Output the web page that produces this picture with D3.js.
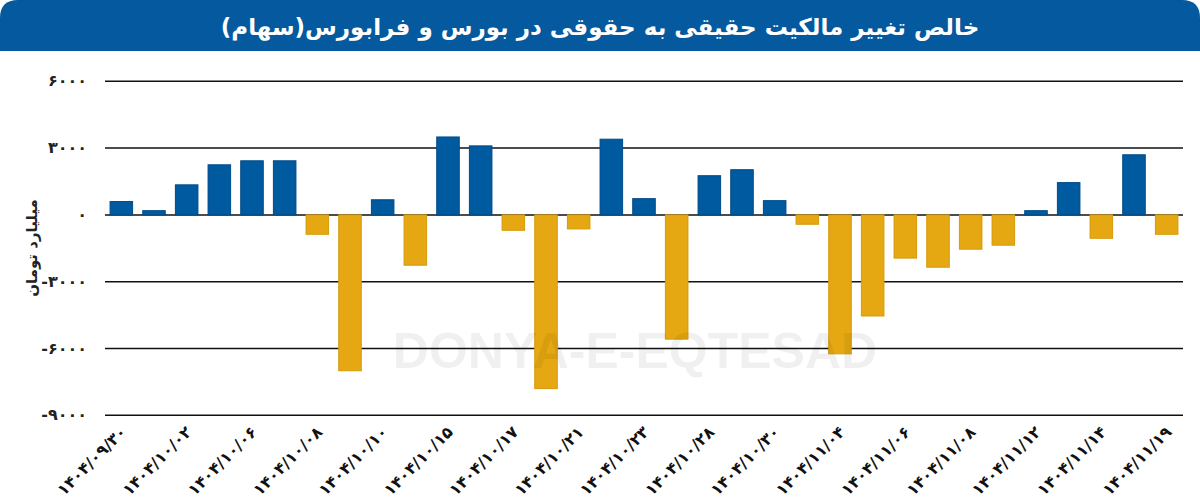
<!DOCTYPE html>
<html>
<head>
<meta charset="utf-8">
<script src="https://cdn.jsdelivr.net/npm/d3@7"></script>
<style>
  html, body { margin: 0; padding: 0; background: #fff; }
  svg { display: block; }
</style>
</head>
<body>
<div id="chart"></div>
<script>
const title = "خالص تغییر مالکیت حقیقی به حقوقی در بورس و فرابورس(سهام)";
const yTitle = "میلیارد تومان";
const watermark = "DONYA-E-EQTESAD";

const dates = [
  "1404/09/30","1404/10/01","1404/10/02","1404/10/03","1404/10/06","1404/10/07",
  "1404/10/08","1404/10/09","1404/10/10","1404/10/14","1404/10/15","1404/10/16",
  "1404/10/17","1404/10/20","1404/10/21","1404/10/22","1404/10/23","1404/10/24",
  "1404/10/28","1404/10/29","1404/10/30","1404/11/01","1404/11/04","1404/11/05",
  "1404/11/06","1404/11/07","1404/11/08","1404/11/11","1404/11/12","1404/11/13",
  "1404/11/14","1404/11/18","1404/11/19"
];
const values = [
  600, 190, 1350, 2250, 2430, 2430,
  -870, -7000, 680, -2260, 3500, 3100,
  -690, -7800, -630, 3400, 730, -5580,
  1760, 2030, 640, -420, -6240, -4540,
  -1940, -2350, -1540, -1360, 190, 1450,
  -1050, 2700, -870
];
const yTicks = [6000, 3000, 0, -3000, -6000, -9000];

const W = 1200, H = 502;
const faDigits = "۰۱۲۳۴۵۶۷۸۹";
const fa = s => String(s).replace(/[0-9]/g, d => faDigits[+d]);

const svg = d3.select("#chart").append("svg").attr("width", W).attr("height", H);

// title bar with rounded top corners
const r = 18, th = 51;
svg.append("path")
  .attr("d", `M0,${th} L0,${r} Q0,0 ${r},0 L${W - r},0 Q${W},0 ${W},${r} L${W},${th} Z`)
  .attr("fill", "#055a9f");
svg.append("text")
  .attr("x", W / 2).attr("y", 35)
  .attr("text-anchor", "middle")
  .attr("direction", "rtl")
  .attr("font-family", "DejaVu Sans")
  .attr("font-weight", "bold")
  .attr("font-size", 23)
  .attr("fill", "#fff")
  .text(title);

const x = d3.scaleBand().domain(dates).range([105, 1183]).paddingInner(0.31).paddingOuter(0.155);
const y = d3.scaleLinear().domain([-9000, 6000]).range([415.3, 81.3]);

// gridlines
svg.append("g").selectAll("line").data(yTicks).join("line")
  .attr("x1", 105).attr("x2", 1183)
  .attr("y1", d => y(d)).attr("y2", d => y(d))
  .attr("stroke", "#111").attr("stroke-width", 1.5);

// y tick labels
svg.append("g").selectAll("text").data(yTicks).join("text")
  .attr("x", 87).attr("y", d => y(d) + 5)
  .attr("text-anchor", "end")
  .attr("font-family", "DejaVu Sans")
  .attr("font-weight", "bold")
  .attr("font-size", 16)
  .attr("fill", "#222")
  .text(d => fa(d));

// y title
svg.append("text")
  .attr("transform", "translate(37,248) rotate(-90)")
  .attr("text-anchor", "middle")
  .attr("direction", "rtl")
  .attr("font-family", "DejaVu Sans")
  .attr("font-weight", "bold")
  .attr("font-size", 15)
  .attr("fill", "#222")
  .text(yTitle);

// bars
svg.append("g").selectAll("rect").data(values).join("rect")
  .attr("x", (d, i) => x(dates[i]))
  .attr("width", x.bandwidth())
  .attr("y", d => y(Math.max(0, d)))
  .attr("height", d => Math.abs(y(d) - y(0)))
  .attr("fill", d => d >= 0 ? "#005aa0" : "#e5a812")
  .attr("stroke", d => d >= 0 ? "#004a88" : "#d69a0c")
  .attr("stroke-width", 1);

// x labels every other
svg.append("g").selectAll("text").data(dates.filter((d, i) => i % 2 === 0)).join("text")
  .attr("transform", d => `translate(${x(d) + x.bandwidth() / 2 + 6},${433}) rotate(-45)`)
  .attr("text-anchor", "end")
  .attr("font-family", "DejaVu Sans")
  .attr("font-weight", "bold")
  .attr("font-size", 16)
  .attr("fill", "#111")
  .text(d => fa(d));

// watermark
svg.append("text")
  .attr("x", 635).attr("y", 368)
  .attr("text-anchor", "middle")
  .attr("font-family", "Liberation Sans")
  .attr("font-weight", "bold")
  .attr("font-size", 50)
  .attr("fill", "#000")
  .attr("fill-opacity", 0.06)
  .text(watermark);
</script>
</body>
</html>
